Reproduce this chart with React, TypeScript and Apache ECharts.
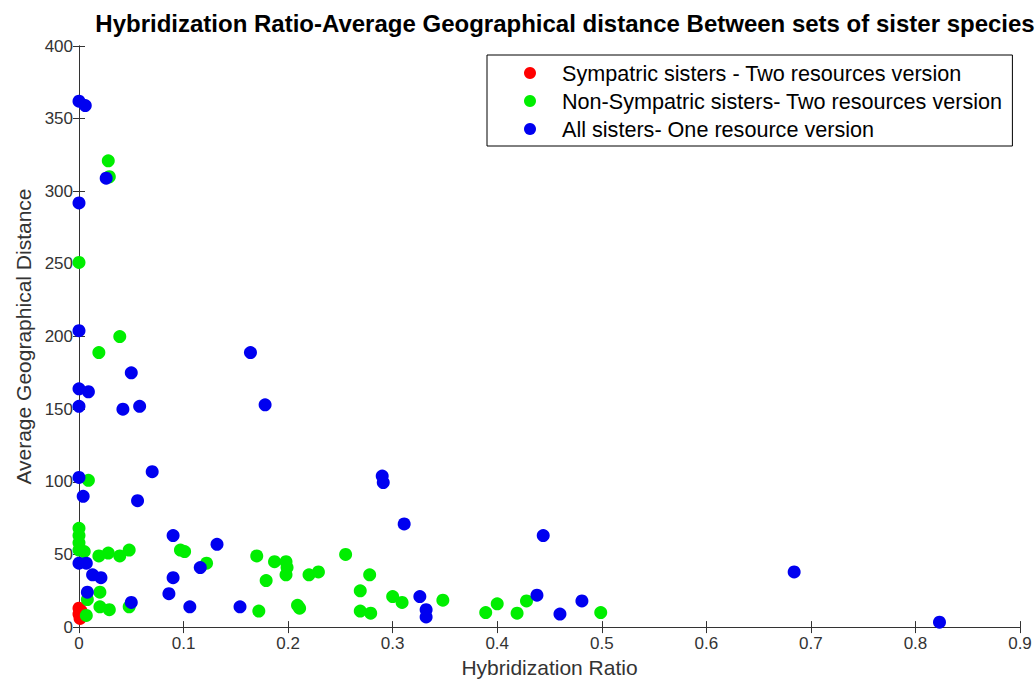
import React, { useEffect, useRef } from "react";
import * as echarts from "echarts";

const titleText =
  "Hybridization Ratio-Average Geographical distance Between sets of sister species";
const xAxisName = "Hybridization Ratio";
const yAxisName = "Average Geographical Distance";
const seriesNames = [
  "Sympatric sisters - Two resources version",
  "Non-Sympatric sisters- Two resources version",
  "All sisters- One resource version",
];

const sympatric: [number, number][] = [
  [0, 13], [0, 9], [0.002, 11], [0.001, 6],
];

const nonSympatric: [number, number][] = [
  [0.028, 321], [0.029, 310], [0, 251], [0.039, 200], [0.019, 189], [0.009, 101],
  [0, 68], [0, 63], [0, 58], [0, 53], [0.005, 52], [0.019, 49], [0.028, 51],
  [0.039, 49], [0.048, 53], [0.02, 24], [0.008, 19], [0.007, 8], [0.02, 14],
  [0.029, 12], [0.048, 14], [0.097, 53], [0.101, 52], [0.122, 44], [0.17, 49],
  [0.187, 45], [0.198, 45], [0.199, 41], [0.179, 32], [0.198, 36], [0.22, 36],
  [0.229, 38], [0.255, 50], [0.172, 11], [0.209, 15], [0.211, 13], [0.278, 36],
  [0.269, 25], [0.269, 11], [0.279, 9.6], [0.3, 21], [0.309, 17], [0.348, 18.5],
  [0.389, 10], [0.4, 16], [0.419, 9.6], [0.428, 18], [0.499, 10],
];

const allSisters: [number, number][] = [
  [0, 362], [0.006, 359], [0.026, 309], [0, 292], [0, 204], [0.05, 175],
  [0, 164], [0.009, 162], [0, 152], [0.042, 150], [0.058, 152], [0.164, 189],
  [0.178, 153], [0.07, 107], [0, 103], [0.056, 87], [0.004, 90], [0.29, 104],
  [0.291, 99.5], [0.311, 71], [0, 44], [0.007, 44], [0.013, 36], [0.021, 34],
  [0.008, 24], [0.05, 17], [0.09, 63], [0.09, 34], [0.086, 23], [0.106, 14],
  [0.132, 57], [0.116, 41], [0.154, 14], [0.326, 21], [0.332, 12], [0.332, 7],
  [0.444, 63], [0.438, 22], [0.46, 9], [0.481, 18], [0.684, 38], [0.823, 3.4],
];

const colors = ["#ff0000", "#00ee00", "#0000f0"];

const FONT = "Liberation Sans, Arial, sans-serif";

export default function App() {
  const ref = useRef<HTMLDivElement>(null);
  useEffect(() => {
    if (!ref.current) return;
    const chart = echarts.init(ref.current, null, { renderer: "svg" });
    const axisLine = { show: true, lineStyle: { color: "#333", width: 1 } };
    const axisTick = { show: true, inside: true, length: 6, lineStyle: { color: "#333" } };
    const labelStyle = { color: "#333", fontSize: 17, fontFamily: FONT };
    chart.setOption({
      animation: false,
      backgroundColor: "#fff",
      title: {
        text: titleText,
        left: 560,
        textAlign: "center",
        top: 6,
        textStyle: { fontSize: 24, fontWeight: "bold", color: "#000", fontFamily: FONT },
      },
      grid: { left: 79, right: 16, top: 46, bottom: 54, containLabel: false },
      legend: {
        orient: "vertical",
        left: 487,
        top: 55,
        backgroundColor: "#fff",
        borderColor: "#000",
        borderWidth: 1,
        padding: [7, 10, 6, 37],
        itemGap: 6,
        itemWidth: 12,
        itemHeight: 12,
        icon: "circle",
        textStyle: { fontSize: 21.6, color: "#000", fontFamily: FONT, padding: [0, 0, 0, 21] },
        data: seriesNames,
      },
      xAxis: [
        {
          type: "value",
          min: 0,
          max: 0.9,
          interval: 0.1,
          name: xAxisName,
          nameLocation: "middle",
          nameGap: 21,
          nameTextStyle: { fontSize: 21, color: "#333", fontFamily: FONT },
          axisLine,
          axisTick,
          axisLabel: { ...labelStyle, margin: 8 },
          splitLine: { show: false },
        },
        {
          type: "value",
          position: "top",
          min: 0,
          max: 0.9,
          interval: 0.1,
          axisLine,
          axisTick,
          axisLabel: { show: false },
          splitLine: { show: false },
        },
      ],
      yAxis: [
        {
          type: "value",
          min: 0,
          max: 400,
          interval: 50,
          name: yAxisName,
          nameLocation: "middle",
          nameGap: 45,
          nameTextStyle: { fontSize: 21, color: "#333", fontFamily: FONT },
          axisLine,
          axisTick,
          axisLabel: { ...labelStyle, margin: 6 },
          splitLine: { show: false },
        },
        {
          type: "value",
          position: "right",
          min: 0,
          max: 400,
          interval: 50,
          axisLine,
          axisTick,
          axisLabel: { show: false },
          splitLine: { show: false },
        },
      ],
      series: [
        { name: seriesNames[0], type: "scatter", data: sympatric, symbolSize: 13, itemStyle: { color: colors[0], opacity: 1 } },
        { name: seriesNames[1], type: "scatter", data: nonSympatric, symbolSize: 13, itemStyle: { color: colors[1], opacity: 1 } },
        { name: seriesNames[2], type: "scatter", data: allSisters, symbolSize: 13, itemStyle: { color: colors[2], opacity: 1 } },
      ],
    });
    return () => chart.dispose();
  }, []);
  return (
    <div
      ref={ref}
      style={{ position: "fixed", left: 0, top: 0, width: 1036, height: 683, background: "#fff" }}
    />
  );
}
